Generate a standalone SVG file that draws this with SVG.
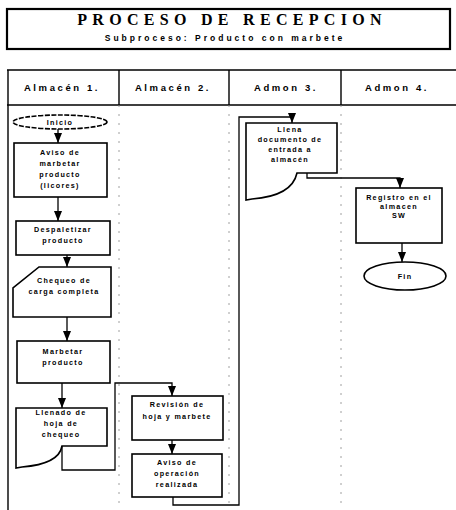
<svg xmlns="http://www.w3.org/2000/svg" width="456" height="510" viewBox="0 0 456 510">
  <style>
    .shape { fill: #fff; stroke: #000; stroke-width: 1.6; }
    .lane { stroke: #000; stroke-width: 1.4; fill: none; }
    .sep { stroke: #888; stroke-width: 0.8; stroke-dasharray: 2 7; fill: none; }
    .conn { stroke: #000; stroke-width: 1.3; fill: none; }
    .t { font-family: "Liberation Sans", Arial, sans-serif; font-weight: bold; font-size: 7.2px; letter-spacing: 1.3px; text-anchor: middle; fill: #000; }
    .hd { font-family: "Liberation Sans", Arial, sans-serif; font-weight: bold; font-size: 9.5px; letter-spacing: 2.6px; text-anchor: middle; fill: #000; }
    .title { font-family: "Liberation Serif", "Times New Roman", serif; font-weight: bold; font-size: 16px; letter-spacing: 5.3px; text-anchor: middle; fill: #000; }
    .sub { font-family: "Liberation Sans", Arial, sans-serif; font-weight: bold; font-size: 8.5px; letter-spacing: 3px; text-anchor: middle; fill: #000; }
  </style>
  <defs>
    <marker id="arrow" viewBox="0 0 10 8" refX="10" refY="4" markerWidth="10" markerHeight="8" markerUnits="userSpaceOnUse" orient="auto">
      <path d="M0,0 L10,4 L0,8 Z" fill="#000"/>
    </marker>
  </defs>

  <rect width="456" height="510" fill="#fff"/>

  <!-- Title block -->
  <g id="title">
    <rect x="7" y="9" width="443" height="40" fill="#fff" stroke="#000" stroke-width="2.2"/>
    <text class="title" x="232" y="25">PROCESO DE RECEPCION</text>
    <text class="sub" x="225" y="41">Subproceso: Producto con marbete</text>
  </g>

  <!-- Swimlanes -->
  <g id="lanes">
    <path class="lane" d="M7,70 H456 M7,105 H456 M8,70 V510 M119,70 V105 M229,70 V105 M341,70 V105"/>
    <path class="sep" d="M119,105 V510 M229,105 V510 M341,105 V510"/>
    <text class="hd" x="62" y="91">Almacén 1.</text>
    <text class="hd" x="173" y="91">Almacén 2.</text>
    <text class="hd" x="286" y="91">Admon 3.</text>
    <text class="hd" x="397" y="91">Admon 4.</text>
  </g>

  <!-- Connectors -->
  <g id="connectors">
    <path class="conn" d="M58,129 V143" marker-end="url(#arrow)"/>
    <path class="conn" d="M58,197 V221" marker-end="url(#arrow)"/>
    <path class="conn" d="M67,255 V267" marker-end="url(#arrow)"/>
    <path class="conn" d="M67,317 V341" marker-end="url(#arrow)"/>
    <path class="conn" d="M62,383 V408" marker-end="url(#arrow)"/>
    <path class="conn" d="M62,446 V470 H115 V383 H172 V396" marker-end="url(#arrow)"/>
    <path class="conn" d="M172,440 V454" marker-end="url(#arrow)"/>
    <path class="conn" d="M173,497 V505 H239 V117 H292 V123" marker-end="url(#arrow)"/>
    <path class="conn" d="M307,173 V178 H400 V188" marker-end="url(#arrow)"/>
    <path class="conn" d="M402,243 V262" marker-end="url(#arrow)"/>
  </g>

  <!-- Almacén 1 -->
  <g id="inicio">
    <ellipse class="shape" cx="60" cy="122" rx="47" ry="7" stroke-dasharray="5 1.5"/>
    <text class="t" x="60" y="125">Inicio</text>
  </g>
  <g id="aviso-marbetar">
    <rect class="shape" x="14" y="143" width="93" height="54"/>
    <text class="t" x="60" y="155">Aviso de</text>
    <text class="t" x="60" y="166">marbetar</text>
    <text class="t" x="60" y="177">producto</text>
    <text class="t" x="60" y="188">(licores)</text>
  </g>
  <g id="despaletizar">
    <rect class="shape" x="16" y="221" width="94" height="34"/>
    <text class="t" x="63" y="232">Despaletizar</text>
    <text class="t" x="63" y="243">producto</text>
  </g>
  <g id="chequeo-carga">
    <path class="shape" d="M39,267 H111 V317 H13 V288 Z"/>
    <text class="t" x="64" y="283">Chequeo de</text>
    <text class="t" x="64" y="294">carga completa</text>
  </g>
  <g id="marbetar">
    <rect class="shape" x="17" y="341" width="93" height="42"/>
    <text class="t" x="63" y="354">Marbetar</text>
    <text class="t" x="63" y="365">producto</text>
  </g>
  <g id="llenado-hoja">
    <path class="shape" d="M16,408 H107 V446 H62 Q59,464 22,467 L16,468 Z"/>
    <text class="t" x="61" y="415">Llenado de</text>
    <text class="t" x="61" y="426">hoja de</text>
    <text class="t" x="61" y="437">chequeo</text>
  </g>

  <!-- Almacén 2 -->
  <g id="revision">
    <rect class="shape" x="132" y="396" width="91" height="44"/>
    <text class="t" x="177" y="407">Revisión de</text>
    <text class="t" x="177" y="419">hoja y marbete</text>
  </g>
  <g id="aviso-operacion">
    <rect class="shape" x="132" y="454" width="90" height="43"/>
    <text class="t" x="177" y="465">Aviso de</text>
    <text class="t" x="177" y="476">operación</text>
    <text class="t" x="177" y="487">realizada</text>
  </g>

  <!-- Admon 3 -->
  <g id="llena-documento">
    <path class="shape" d="M246,123 H337 V173 H297 Q292,196 252,199 L246,200 Z"/>
    <text class="t" x="290" y="132">Llena</text>
    <text class="t" x="290" y="142">documento de</text>
    <text class="t" x="290" y="152">entrada a</text>
    <text class="t" x="290" y="162">almacén</text>
  </g>

  <!-- Admon 4 -->
  <g id="registro">
    <rect class="shape" x="356" y="188" width="86" height="55"/>
    <text class="t" x="399" y="200">Registro en el</text>
    <text class="t" x="399" y="209">almacen</text>
    <text class="t" x="399" y="218">SW</text>
  </g>
  <g id="fin">
    <ellipse class="shape" cx="405" cy="276" rx="41" ry="14"/>
    <text class="t" x="405" y="279">Fin</text>
  </g>
</svg>
